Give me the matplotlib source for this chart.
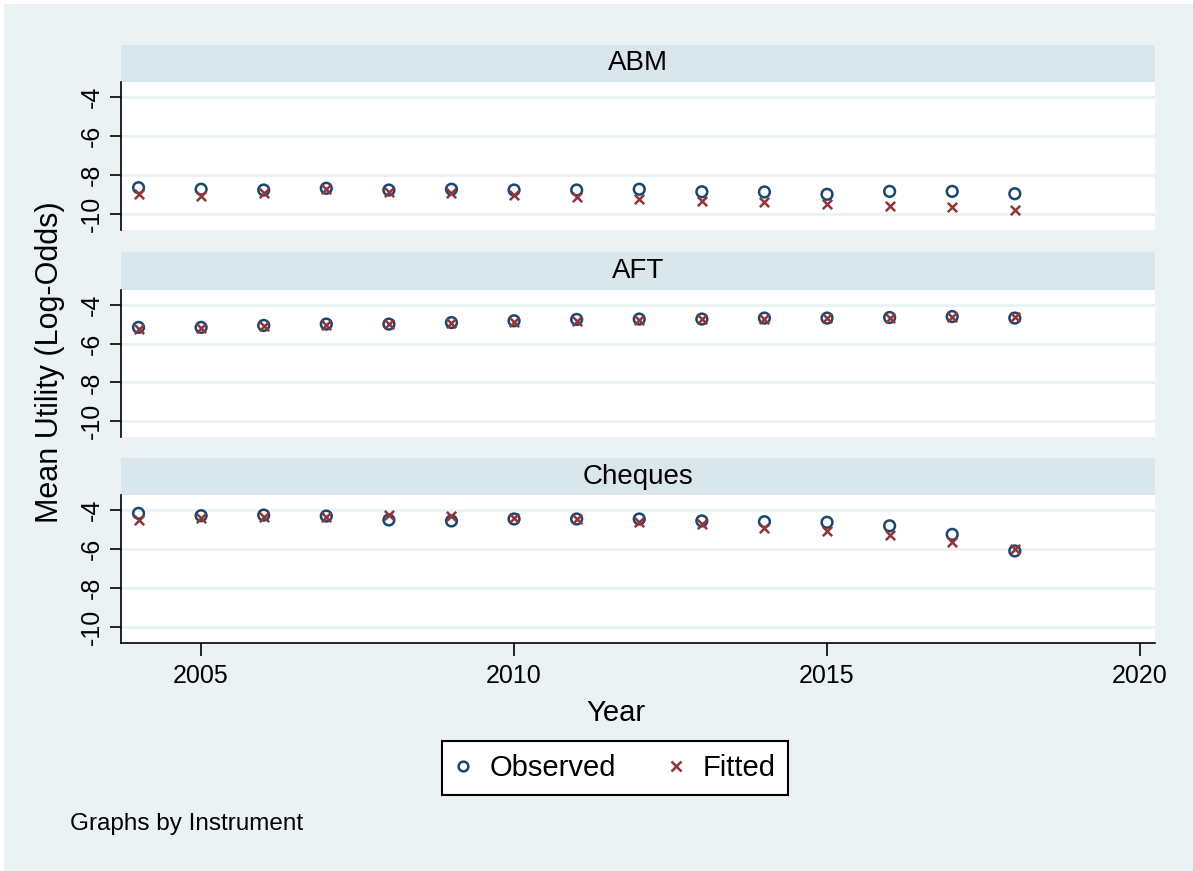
import matplotlib.pyplot as plt
import matplotlib.patches as mpatches
from matplotlib.lines import Line2D

plt.rcParams['font.family'] = ['Liberation Sans', 'DejaVu Sans']

# data
years = list(range(2004, 2019))
panels = ['ABM', 'AFT', 'Cheques']
observed = {
    'ABM': [-8.65, -8.73, -8.77, -8.68, -8.77, -8.73, -8.77, -8.77, -8.73,
            -8.86, -8.87, -8.99, -8.84, -8.84, -8.96],
    'AFT': [-5.16, -5.16, -5.06, -4.99, -4.99, -4.91, -4.82, -4.75, -4.73,
            -4.73, -4.68, -4.68, -4.65, -4.60, -4.68],
    'Cheques': [-4.17, -4.29, -4.26, -4.31, -4.51, -4.56, -4.46, -4.46, -4.46,
                -4.56, -4.60, -4.63, -4.81, -5.25, -6.10],
}
fitted = {
    'ABM': [-8.97, -9.08, -8.91, -8.73, -8.86, -8.91, -9.03, -9.11, -9.23,
            -9.32, -9.40, -9.49, -9.57, -9.66, -9.79],
    'AFT': [-5.22, -5.18, -5.10, -5.04, -5.00, -4.95, -4.88, -4.82, -4.78,
            -4.75, -4.72, -4.70, -4.67, -4.63, -4.60],
    'Cheques': [-4.51, -4.43, -4.37, -4.34, -4.26, -4.29, -4.39, -4.46, -4.60,
                -4.72, -4.94, -5.08, -5.28, -5.63, -6.00],
}
yticks = [-4, -6, -8, -10]
xticks = [2005, 2010, 2015, 2020]

bg = '#EAF2F3'
strip_col = '#D9E6EB'
navy = '#1A476F'
maroon = '#90353B'

W, H = 1193, 871
fig = plt.figure(figsize=(W / 100, H / 100), dpi=100, facecolor='white')
fig.patches.append(mpatches.Rectangle((4 / W, 0), 1, 1 - 4 / H, transform=fig.transFigure,
                                      facecolor=bg, edgecolor='none', zorder=-10))


def rect(x0, y0, x1, y1):
    return [x0 / W, 1 - y1 / H, (x1 - x0) / W, (y1 - y0) / H]


strip_y = [(45, 82), (252, 290), (458, 495)]
plot_y = [(82, 230), (290, 437), (495, 643)]

for i, name in enumerate(panels):
    sa = fig.add_axes(rect(121, strip_y[i][0], 1155, strip_y[i][1]))
    sa.set_facecolor(strip_col)
    sa.set_xticks([])
    sa.set_yticks([])
    for s in sa.spines.values():
        s.set_visible(False)
    sa.text(0.5, 0.5, name, ha='center', va='center', fontsize=20, transform=sa.transAxes)

    ax = fig.add_axes(rect(121, plot_y[i][0], 1155, plot_y[i][1]))
    ax.set_facecolor('white')
    ax.set_xlim(2003.72, 2020.24)
    ax.set_ylim(-10.82, -3.23)
    for y in yticks:
        ax.axhline(y, color=bg, lw=2, zorder=0)
    ax.scatter(years, observed[name], s=60, facecolors='none', edgecolors=navy,
               linewidths=1.8, zorder=3)
    ax.scatter(years, fitted[name], s=45, marker='x', color=maroon,
               linewidths=1.8, zorder=3)
    for s in ['top', 'right']:
        ax.spines[s].set_visible(False)
    ax.spines['left'].set_linewidth(1.2)
    ax.set_yticks(yticks)
    ax.set_yticklabels([str(v) for v in yticks], rotation=90, va='center', fontsize=18)
    ax.tick_params(axis='y', length=8, width=1.2, pad=4)
    if i < 2:
        ax.spines['bottom'].set_visible(False)
        ax.set_xticks([])
    else:
        ax.spines['bottom'].set_linewidth(1.2)
        ax.set_xticks(xticks)
        ax.set_xticklabels([str(v) for v in xticks], fontsize=18)
        ax.tick_params(axis='x', length=9, width=1.2, pad=6)

fig.text(50 / W, 1 - 362 / H, 'Mean Utility (Log-Odds)', rotation=90,
         ha='center', va='center', fontsize=22)
fig.text(616 / W, 1 - 713 / H, 'Year', ha='center', va='center', fontsize=21)

handles = [
    Line2D([], [], ls='none', marker='o', ms=7, mfc='none', mec=navy, mew=1.8),
    Line2D([], [], ls='none', marker='x', ms=7, color=maroon, mew=1.8),
]
leg = fig.legend(handles, ['Observed', 'Fitted'], ncol=2, loc='center',
                 bbox_to_anchor=(615 / W, 1 - 768 / H), fontsize=21,
                 frameon=True, fancybox=False, edgecolor='black', framealpha=1,
                 facecolor='white', handlelength=0.6, handletextpad=0.6,
                 columnspacing=1.75, borderpad=0.45)
leg.get_frame().set_linewidth(1.5)

fig.text(70 / W, 1 - 824 / H, 'Graphs by Instrument', ha='left', va='center', fontsize=17.5)

plt.savefig('out.png', dpi=100, facecolor=fig.get_facecolor())
